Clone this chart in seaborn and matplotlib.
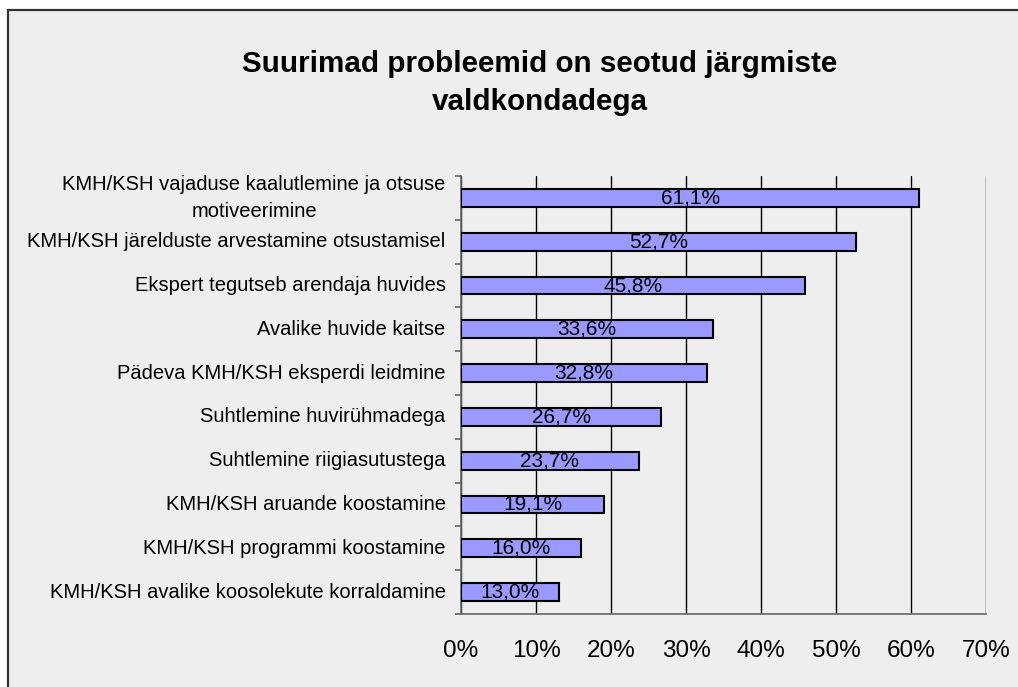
import matplotlib
matplotlib.use("Agg")
import matplotlib.pyplot as plt
from matplotlib.patches import Rectangle
from matplotlib.ticker import FixedLocator, PercentFormatter
import pandas as pd
import seaborn as sns

# data
categories = [
    "KMH/KSH vajaduse kaalutlemine ja otsuse\nmotiveerimine",
    "KMH/KSH järelduste arvestamine otsustamisel",
    "Ekspert tegutseb arendaja huvides",
    "Avalike huvide kaitse",
    "Pädeva KMH/KSH eksperdi leidmine",
    "Suhtlemine huvirühmadega",
    "Suhtlemine riigiasutustega",
    "KMH/KSH aruande koostamine",
    "KMH/KSH programmi koostamine",
    "KMH/KSH avalike koosolekute korraldamine",
]
shares = [61.1, 52.7, 45.8, 33.6, 32.8, 26.7, 23.7, 19.1, 16.0, 13.0]
x_ticks = [0, 10, 20, 30, 40, 50, 60, 70]
title = "Suurimad probleemid on seotud järgmiste\nvaldkondadega"

df = pd.DataFrame({"Valdkond": categories, "Osakaal": shares})

sns.set_style("white")
plt.rcParams["font.family"] = ["Liberation Sans", "DejaVu Sans"]
plt.rcParams["text.color"] = "black"

bg = "#EEEEEE"
fig = plt.figure(figsize=(10.18, 6.87), dpi=100, facecolor="white")
# grey chart area with dark frame (cut off at right/bottom edge)
frame = Rectangle((8 / 1018, -0.05), 1.1, 1.05 - 10 / 687,
                  transform=fig.transFigure, facecolor=bg,
                  edgecolor="#333333", linewidth=1.6, zorder=-10)
fig.patches.append(frame)

ax = fig.add_axes([461 / 1018, 1 - 614 / 687, 525 / 1018, 438 / 687])
ax.set_facecolor(bg)

sns.barplot(data=df, x="Osakaal", y="Valdkond", orient="h", color="#9999FF",
            saturation=1, edgecolor="black", linewidth=1.5, width=0.41, ax=ax,
            zorder=3)

labels = [f"{v:.1f}%".replace(".", ",") for v in shares]
ax.bar_label(ax.containers[0], labels=labels, label_type="center",
             fontsize=15, color="black", zorder=4)

ax.set_xlim(0, 70)
ax.set_ylim(len(categories) - 0.5, -0.5)
ax.xaxis.set_major_locator(FixedLocator(x_ticks))
ax.xaxis.set_major_formatter(PercentFormatter(decimals=0))
ax.grid(axis="x", color="black", linewidth=1, zorder=1)
ax.set_axisbelow(True)

ax.set_xlabel("")
ax.set_ylabel("")
ax.set_title("")

for side in ["top", "right"]:
    ax.spines[side].set_visible(False)
for side in ["left", "bottom"]:
    ax.spines[side].set_color("#666666")
    ax.spines[side].set_linewidth(1.2)

ax.tick_params(axis="x", which="major", length=6, width=1.2, color="#666666",
               direction="out", labelsize=17.5, pad=13, labelcolor="black")
ax.tick_params(axis="y", which="major", length=0, pad=11, labelsize=14.5,
               labelcolor="black")
ax.yaxis.set_minor_locator(FixedLocator([i - 0.5 for i in range(len(categories) + 1)]))
ax.tick_params(axis="y", which="minor", length=4.5, width=1.2, color="#666666",
               direction="out", left=True)

for lbl in ax.get_yticklabels():
    lbl.set_multialignment("center")
    lbl.set_linespacing(1.55)
    lbl.set_verticalalignment("center")

fig.text(540 / 1018, 1 - 83 / 687, title, ha="center", va="center",
         fontsize=21.3, fontweight="bold", linespacing=1.5, color="black")

fig.savefig("out.png", dpi=100, facecolor="white")
